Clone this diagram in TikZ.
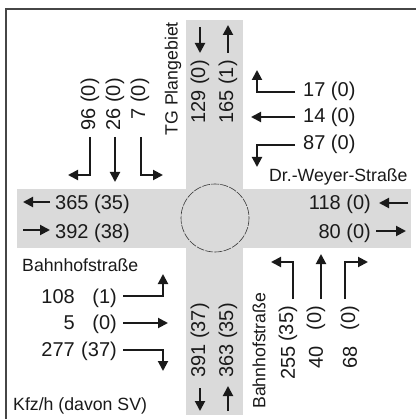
\documentclass[tikz,border=0pt]{standalone}
\usepackage{fontspec}
\setmainfont{Liberation Sans}
\usetikzlibrary{arrows.meta}
\definecolor{txt}{RGB}{26,26,26}
\definecolor{road}{RGB}{218,218,218}
\definecolor{frame}{RGB}{70,70,70}
\tikzset{
  num/.style={font=\fontsize{20}{24}\selectfont, inner sep=0pt, text=txt},
  lab/.style={font=\fontsize{17.7}{21}\selectfont, inner sep=0pt, text=txt},
  vnum/.style={num, rotate=90, anchor=east},
  arr/.style={line width=2pt, draw=txt, -{Triangle[length=10pt,width=10pt]}},
}
\begin{document}
\begin{tikzpicture}[x=1pt,y=-1pt]
\useasboundingbox (0,0) rectangle (416,419);
\fill[white] (0,0) rectangle (416,419);
% frame
\draw[frame, line width=2.2pt] (6,419) -- (6,9) -- (416,9);
% roads
\fill[road] (186,20) rectangle (243,415);
\fill[road] (17,189) rectangle (411,248);
\draw[gray!40!black, line width=0.6pt, dash pattern=on 8pt off 1.2pt] (215,218) circle[radius=34];

% ---- north arm
\node[lab, rotate=90, anchor=east] (tg) at (173,22) {TG Plangebiet};
\node[vnum] (n129) at (200,60) {129 (0)};
\node[vnum] (n165) at (228,60) {165 (1)};
\coordinate (nd1) at (200,27); \coordinate (nd2) at (200,53);
\coordinate (nu1) at (228,53); \coordinate (nu2) at (228,25);
\draw[arr] (nd1) -- (nd2);
\draw[arr] (nu1) -- (nu2);

% ---- upper-left group (from north)
\node[vnum] (a96) at (90,78) {96 (0)};
\node[vnum] (a26) at (115,78) {26 (0)};
\node[vnum] (a7) at (140,78) {7 (0)};
\coordinate (a96s) at (90,137); \coordinate (a96k) at (90,175); \coordinate (a96e) at (68,175);
\coordinate (a26s) at (115,137); \coordinate (a26e) at (115,182);
\coordinate (a7s) at (141,137); \coordinate (a7k) at (141,175); \coordinate (a7e) at (163,175);
\draw[arr] (a96s) -- (a96k) -- (a96e);
\draw[arr] (a26s) -- (a26e);
\draw[arr] (a7s) -- (a7k) -- (a7e);

% ---- upper-right group (from east)
\node[num, anchor=base west] (b17) at (303,97) {17 (0)};
\node[num, anchor=base west] (b14) at (303,123) {14 (0)};
\node[num, anchor=base west] (b87) at (303,150) {87 (0)};
\node[lab, anchor=base west] (dw) at (269,182) {Dr.-Weyer-Straße};
\coordinate (b17s) at (295,92); \coordinate (b17k) at (257,92); \coordinate (b17e) at (257,70);
\coordinate (b14s) at (295,117); \coordinate (b14e) at (251,117);
\coordinate (b87s) at (295,145); \coordinate (b87k) at (257,145); \coordinate (b87e) at (257,167);
\draw[arr] (b17s) -- (b17k) -- (b17e);
\draw[arr] (b14s) -- (b14e);
\draw[arr] (b87s) -- (b87k) -- (b87e);

% ---- west arm
\node[num, anchor=base west] (w365) at (55,209) {365 (35)};
\node[num, anchor=base west] (w392) at (55,238) {392 (38)};
\coordinate (wl1) at (50,202); \coordinate (wl2) at (23,202);
\coordinate (wr1) at (23,230); \coordinate (wr2) at (50,230);
\draw[arr] (wl1) -- (wl2);
\draw[arr] (wr1) -- (wr2);

% ---- east arm
\node[num, anchor=base east] (e118) at (371,209) {118 (0)};
\node[num, anchor=base east] (e80) at (371,238) {80 (0)};
\coordinate (el1) at (408,203); \coordinate (el2) at (379,203);
\coordinate (er1) at (376,231); \coordinate (er2) at (406,231);
\draw[arr] (el1) -- (el2);
\draw[arr] (er1) -- (er2);

% ---- lower-left group (from west)
\node[lab, anchor=base west] (bh1) at (22,271) {Bahnhofstraße};
\node[num, anchor=base east] (c108) at (75,303) {108};
\node[num, anchor=base east] (c108p) at (117,303) {(1)};
\node[num, anchor=base east] (c5) at (75,329) {5};
\node[num, anchor=base east] (c5p) at (117,329) {(0)};
\node[num, anchor=base east] (c277) at (75,356) {277};
\node[num, anchor=base east] (c277p) at (117,356) {(37)};
\coordinate (c1s) at (123,296); \coordinate (c1k) at (163,296); \coordinate (c1e) at (163,274);
\coordinate (c2s) at (123,323); \coordinate (c2e) at (168,323);
\coordinate (c3s) at (123,350); \coordinate (c3k) at (163,350); \coordinate (c3e) at (163,371);
\draw[arr] (c1s) -- (c1k) -- (c1e);
\draw[arr] (c2s) -- (c2e);
\draw[arr] (c3s) -- (c3k) -- (c3e);
\node[lab, anchor=base west] (kfz) at (13,410) {Kfz/h (davon SV)};

% ---- south arm
\node[vnum] (s391) at (200,303) {391 (37)};
\node[vnum] (s363) at (228,303) {363 (35)};
\coordinate (sd1) at (200,388); \coordinate (sd2) at (200,411);
\coordinate (su1) at (228,411); \coordinate (su2) at (228,386);
\draw[arr] (sd1) -- (sd2);
\draw[arr] (su1) -- (su2);

% ---- lower-right group (from south)
\node[lab, rotate=90, anchor=west] (bh2) at (259,409) {Bahnhofstraße};
\node[vnum] (d255) at (288,346) {255};
\node[vnum] (d255p) at (288,306) {(35)};
\node[vnum] (d40) at (316,346) {40};
\node[vnum] (d40p) at (316,306) {(0)};
\node[vnum] (d68) at (350,346) {68};
\node[vnum] (d68p) at (350,306) {(0)};
\coordinate (d1s) at (293,299); \coordinate (d1k) at (293,262); \coordinate (d1e) at (271,262);
\coordinate (d2s) at (321,299); \coordinate (d2e) at (321,254);
\coordinate (d3s) at (345,299); \coordinate (d3k) at (345,262); \coordinate (d3e) at (368,262);
\draw[arr] (d1s) -- (d1k) -- (d1e);
\draw[arr] (d2s) -- (d2e);
\draw[arr] (d3s) -- (d3k) -- (d3e);
\end{tikzpicture}
\end{document}
